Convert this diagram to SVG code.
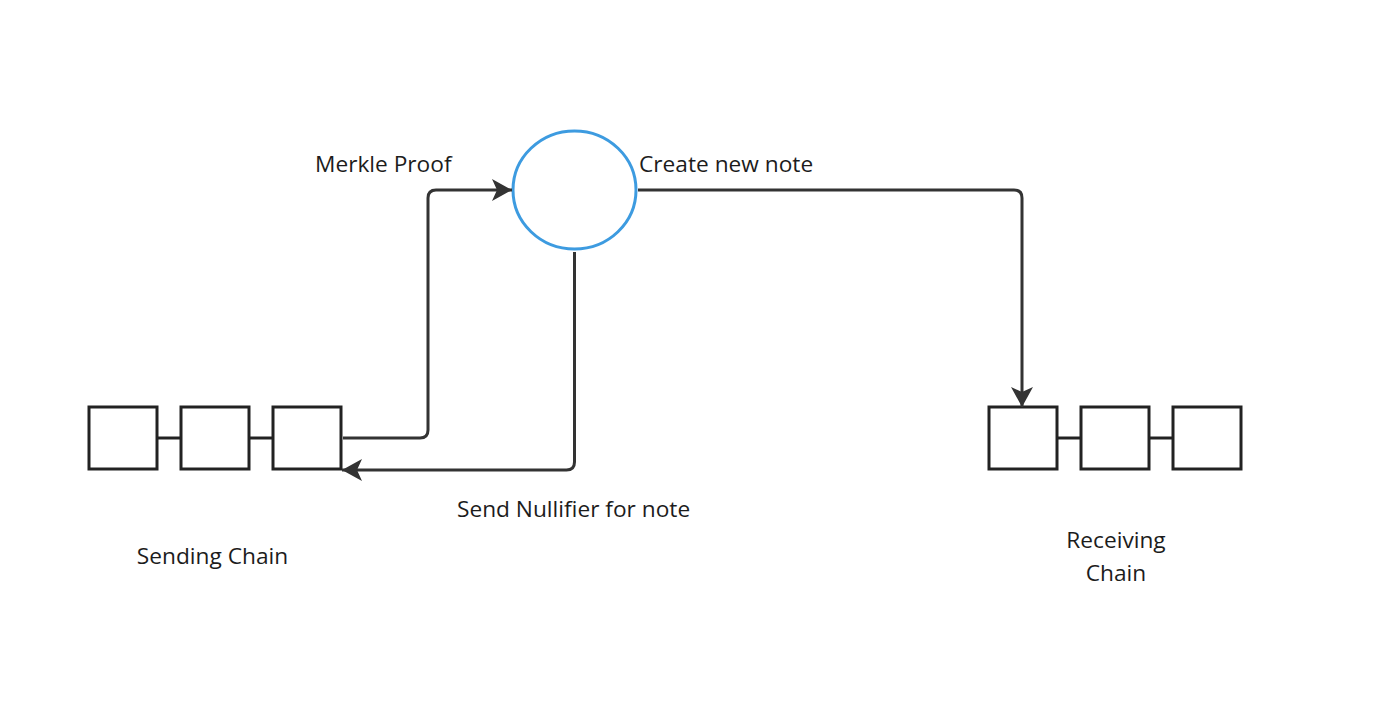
<svg xmlns="http://www.w3.org/2000/svg" width="1373" height="727" viewBox="0 0 1373 727">
  <style>
    .blk { fill: #ffffff; stroke: #222222; stroke-width: 3; }
    .link { stroke: #222222; stroke-width: 3; }
    .conn { fill: none; stroke: #333333; stroke-width: 3; stroke-linejoin: round; }
    .lbl { font-family: "Open Sans", "Noto Sans", "Liberation Sans", sans-serif; font-size: 22.7px; fill: #1c1c1c; }
  </style>
  <defs>
    <marker id="arr" markerUnits="userSpaceOnUse" markerWidth="24" markerHeight="24" refX="20" refY="11" orient="auto">
      <path d="M0,0 L20,11 L0,22 L5,11 Z" fill="#333333"/>
    </marker>
  </defs>
  <rect width="1373" height="727" fill="#ffffff"/>

  <g id="sending-chain">
    <line class="link" x1="157" y1="438" x2="181" y2="438"/>
    <line class="link" x1="249" y1="438" x2="273" y2="438"/>
    <rect class="blk" x="89" y="407" width="68" height="62"/>
    <rect class="blk" x="181" y="407" width="68" height="62"/>
    <rect class="blk" x="273" y="407" width="68" height="62"/>
    <text class="lbl" x="212.5" y="564" text-anchor="middle">Sending Chain</text>
  </g>

  <g id="receiving-chain">
    <line class="link" x1="1057" y1="438" x2="1081" y2="438"/>
    <line class="link" x1="1149" y1="438" x2="1173" y2="438"/>
    <rect class="blk" x="989" y="407" width="68" height="62"/>
    <rect class="blk" x="1081" y="407" width="68" height="62"/>
    <rect class="blk" x="1173" y="407" width="68" height="62"/>
    <text class="lbl" x="1116" y="548" text-anchor="middle">Receiving</text>
    <text class="lbl" x="1116" y="581" text-anchor="middle">Chain</text>
  </g>

  <g id="note-node">
    <ellipse cx="574.5" cy="190" rx="61.5" ry="59" fill="#ffffff" stroke="#3d9be0" stroke-width="3"/>
  </g>

  <g id="connectors">
    <path class="conn" d="M343,438 H420 Q428,438 428,430 V198 Q428,190 436,190 H512" marker-end="url(#arr)"/>
    <path class="conn" d="M574.5,252 V462 Q574.5,470 566.5,470 H342" marker-end="url(#arr)"/>
    <path class="conn" d="M638,190 H1014 Q1022,190 1022,198 V407" marker-end="url(#arr)"/>
  </g>

  <g id="labels">
    <text class="lbl" x="315" y="172">Merkle Proof</text>
    <text class="lbl" x="639" y="172">Create new note</text>
    <text class="lbl" x="457" y="517">Send Nullifier for note</text>
  </g>
</svg>
